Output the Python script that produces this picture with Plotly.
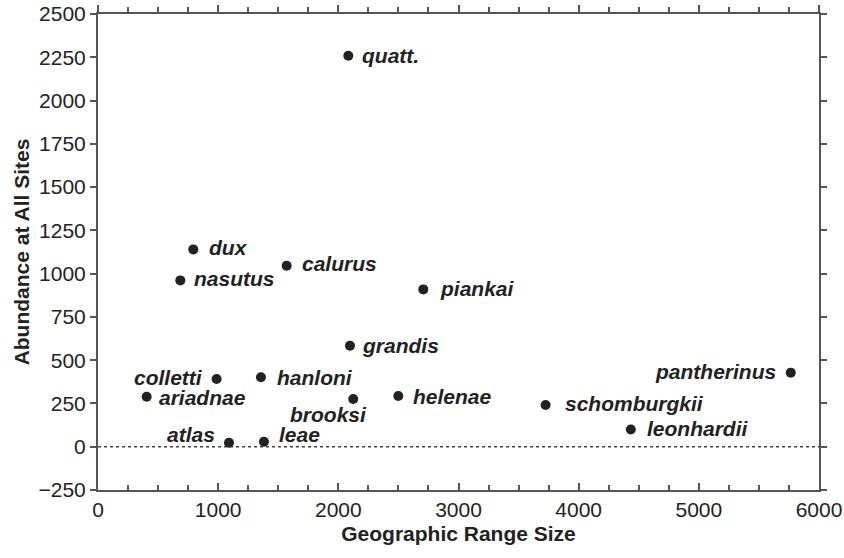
import plotly.graph_objects as go

# species, geographic range size, abundance at all sites
species = ['quatt.', 'dux', 'nasutus', 'calurus', 'piankai', 'grandis',
           'colletti', 'hanloni', 'ariadnae', 'brooksi', 'helenae',
           'atlas', 'leae', 'schomburgkii', 'leonhardii', 'pantherinus']
range_size = [2083, 793, 685, 1570, 2707, 2097,
              987, 1356, 405, 2124, 2499,
              1090, 1381, 3725, 4434, 5765]
abundance = [2259, 1140, 961, 1046, 909, 583,
             391, 401, 289, 276, 293,
             23, 29, 241, 100, 428]

# label placement (pixels): xanchor, xshift, yshift
label_pos = {
    'quatt.': ('left', 12, 0),
    'dux': ('left', 14, 2),
    'nasutus': ('left', 12, 2),
    'calurus': ('left', 13, 2),
    'piankai': ('left', 15, 1),
    'grandis': ('left', 10, 0),
    'colletti': ('right', -12, 2),
    'hanloni': ('left', 14, 0),
    'ariadnae': ('left', 10, -1),
    'brooksi': ('center', -25, -16),
    'helenae': ('left', 13, 0),
    'atlas': ('right', -12, 8),
    'leae': ('left', 13, 7),
    'schomburgkii': ('left', 17, 2),
    'leonhardii': ('left', 14, 1),
    'pantherinus': ('right', -13, 1),
}

INK = '#222222'
AXIS = '#555555'
FONT = 'Liberation Sans, Arial, sans-serif'

fig = go.Figure()
fig.add_trace(go.Scatter(
    x=range_size, y=abundance, mode='markers',
    marker=dict(size=10, color=INK),
    text=species, hovertemplate='%{text}: %{x}, %{y}<extra></extra>',
    showlegend=False,
))
# invisible copy so the top axis gets drawn
fig.add_trace(go.Scatter(
    x=range_size, y=abundance, mode='markers', xaxis='x2',
    marker=dict(size=1, opacity=0), hoverinfo='skip', showlegend=False,
))

for name, xv, yv in zip(species, range_size, abundance):
    anchor, xs, ys = label_pos[name]
    fig.add_annotation(
        x=xv, y=yv, text='<b><i>%s</i></b>' % name, showarrow=False,
        xanchor=anchor, yanchor='middle', xshift=xs, yshift=ys,
        font=dict(size=21, color=INK, family=FONT),
    )

# dotted zero line
fig.add_shape(type='line', xref='paper', yref='y', x0=0, x1=1, y0=0, y1=0,
              line=dict(color='#444444', width=1.5, dash='dot'), layer='below')

fig.update_layout(
    width=844, height=558,
    margin=dict(l=98, r=25, t=14, b=68),
    paper_bgcolor='white', plot_bgcolor='white',
    font=dict(family=FONT, size=21, color=INK),
    xaxis=dict(
        range=[0, 6000], tickvals=[0, 1000, 2000, 3000, 4000, 5000, 6000],
        ticks='inside', ticklen=7, tickwidth=2, tickcolor=AXIS,
        minor=dict(ticks='inside', dtick=250, ticklen=5, tickwidth=2, tickcolor=AXIS),
        showline=True, linewidth=2, linecolor=AXIS, mirror=False,
        showgrid=False, zeroline=False, automargin=False,
        title=dict(text='<b>Geographic Range Size</b>', font=dict(size=21), standoff=6),
    ),
    xaxis2=dict(
        range=[0, 6000], overlaying='x', side='top', anchor='y',
        tickvals=[0, 1000, 2000, 3000, 4000, 5000, 6000], showticklabels=False,
        ticks='outside', ticklen=7, tickwidth=2, tickcolor=AXIS,
        minor=dict(ticks='outside', dtick=250, ticklen=5, tickwidth=2, tickcolor=AXIS),
        showline=True, linewidth=2, linecolor=AXIS,
        showgrid=False, zeroline=False, automargin=False,
    ),
    yaxis=dict(
        range=[-250, 2500], dtick=250, tick0=0,
        ticks='outside', ticklen=6, tickwidth=2, tickcolor=AXIS,
        showline=True, linewidth=2, linecolor=AXIS, mirror='ticks',
        showgrid=False, zeroline=False, automargin=False,
        title=dict(text='<b>Abundance at All Sites</b>', font=dict(size=21), standoff=3),
    ),
)

# drop the page's default 8px body margin so the figure sits at the window corner
fig.write_html('out.html', config={'displayModeBar': False},
               post_script="document.body.style.margin='0';")
